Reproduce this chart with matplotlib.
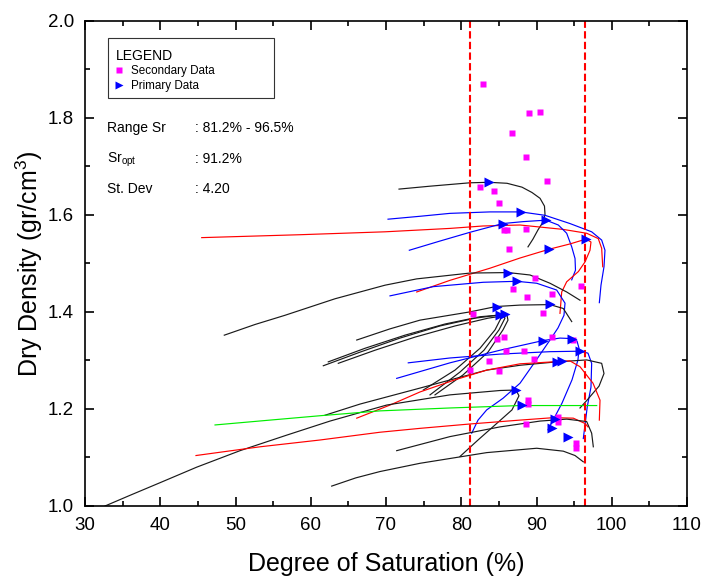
import matplotlib
matplotlib.use("Agg")
import matplotlib.pyplot as plt
from matplotlib.patches import Rectangle
from matplotlib.ticker import MultipleLocator

plt.rcParams['font.family'] = ['Liberation Sans', 'DejaVu Sans']
plt.rcParams['mathtext.fontset'] = 'custom'
plt.rcParams['mathtext.rm'] = 'Liberation Sans'
plt.rcParams['mathtext.it'] = 'Liberation Sans:italic'

# summary values
range_sr = [81.2, 96.5]
sr_opt = 91.2
st_dev = 4.20

# secondary data (magenta squares)
sec_sr = [82.85, 89.04, 90.50, 86.70, 88.60, 91.40, 82.45, 84.40, 85.00, 85.70,
          86.10, 88.60, 86.30, 89.80, 86.90, 95.90, 92.06, 88.80, 90.80, 81.50,
          84.80, 85.70, 86.00, 88.30, 92.10, 94.90, 83.70, 89.70, 81.20, 85.00,
          88.90, 88.90, 92.80, 92.80, 88.60, 95.20, 95.20]
sec_dd = [1.869, 1.809, 1.812, 1.768, 1.719, 1.669, 1.658, 1.649, 1.625, 1.568,
          1.568, 1.570, 1.529, 1.469, 1.448, 1.453, 1.437, 1.430, 1.398, 1.395,
          1.345, 1.349, 1.320, 1.319, 1.349, 1.343, 1.299, 1.303, 1.280, 1.279,
          1.218, 1.210, 1.184, 1.174, 1.168, 1.129, 1.119]

# primary data (blue triangles)
pri_sr = [83.69, 87.94, 85.51, 91.26, 96.60, 91.66, 86.25, 87.37, 84.71, 91.79,
          85.15, 85.81, 90.90, 94.68, 95.78, 92.68, 93.35, 87.28, 88.04, 92.46,
          92.10, 94.23]
pri_dd = [1.667, 1.606, 1.582, 1.589, 1.550, 1.529, 1.481, 1.463, 1.410, 1.416,
          1.393, 1.395, 1.341, 1.345, 1.319, 1.297, 1.299, 1.239, 1.208, 1.179,
          1.161, 1.143]

# compaction curves (degree of saturation, dry density)
a_sr = [71.73, 75.85, 81.16, 83.69, 86.08, 88.07, 89.40, 90.47, 91.06, 91.13, 90.86, 90.20, 89.53, 88.87]
a_dd = [1.653, 1.659, 1.666, 1.667, 1.665, 1.657, 1.646, 1.634, 1.618, 1.601, 1.585, 1.569, 1.550, 1.534]

b_sr = [70.27, 74.52, 78.50, 83.82, 87.94, 91.13, 94.45, 97.33, 98.66, 99.10, 98.97, 98.57, 98.35]
b_dd = [1.591, 1.597, 1.603, 1.606, 1.606, 1.599, 1.582, 1.565, 1.548, 1.527, 1.493, 1.455, 1.419]

c_sr = [45.51, 58.57, 69.87, 78.50, 82.89, 87.81, 93.52, 96.67, 98.21, 98.66, 98.80]
c_dd = [1.553, 1.559, 1.565, 1.572, 1.577, 1.579, 1.570, 1.562, 1.551, 1.531, 1.493]

d_sr = [73.10, 77.18, 81.16, 85.51, 88.25, 91.26, 92.90, 94.01, 94.68, 95.12, 95.18, 94.68]
d_dd = [1.527, 1.546, 1.564, 1.582, 1.586, 1.589, 1.579, 1.562, 1.534, 1.510, 1.486, 1.466]

e_sr = [74.08, 78.50, 83.82, 87.81, 91.66, 94.45, 96.58, 97.24, 97.11, 96.45, 95.56, 94.01, 93.35, 93.12]
e_dd = [1.441, 1.465, 1.490, 1.511, 1.529, 1.540, 1.550, 1.544, 1.527, 1.503, 1.483, 1.462, 1.441, 1.397]

f_sr = [48.51, 52.59, 56.58, 63.22, 69.87, 74.08, 81.16, 86.25, 89.14, 91.79, 94.01, 95.78]
f_dd = [1.352, 1.374, 1.393, 1.427, 1.455, 1.468, 1.480, 1.481, 1.476, 1.459, 1.441, 1.424]

g_sr = [70.53, 76.29, 82.93, 87.37, 90.03, 92.68, 93.79, 93.65, 92.86, 91.79, 89.80, 87.81, 85.55, 83.38, 82.23, 81.39]
g_dd = [1.433, 1.452, 1.461, 1.463, 1.459, 1.445, 1.418, 1.393, 1.367, 1.342, 1.297, 1.253, 1.222, 1.198, 1.177, 1.150]

i1_sr = [66.11, 70.53, 74.52, 81.16, 84.62, 87.81, 91.79, 93.56, 94.68]
i1_dd = [1.342, 1.365, 1.383, 1.400, 1.411, 1.414, 1.415, 1.407, 1.380]

i2_sr = [61.67, 66.54, 71.86, 77.18, 81.83, 84.75, 85.28, 84.49, 82.49, 79.17, 74.96]
i2_dd = [1.289, 1.317, 1.346, 1.371, 1.387, 1.393, 1.387, 1.363, 1.325, 1.280, 1.239]

i3_sr = [62.33, 67.21, 72.52, 77.84, 82.49, 85.55, 85.81, 85.02, 83.02, 79.83, 75.85]
i3_dd = [1.297, 1.325, 1.352, 1.375, 1.390, 1.394, 1.387, 1.363, 1.321, 1.276, 1.229]

i4_sr = [63.66, 68.54, 73.85, 79.17, 83.55, 86.08, 86.21, 85.55, 83.55, 80.23, 76.51]
i4_dd = [1.294, 1.321, 1.348, 1.371, 1.387, 1.393, 1.383, 1.363, 1.317, 1.270, 1.229]

j_sr = [71.42, 78.50, 85.15, 90.90, 93.12, 94.68, 95.38, 95.65, 95.51, 94.72, 93.39, 91.53]
j_dd = [1.263, 1.295, 1.321, 1.341, 1.346, 1.345, 1.340, 1.325, 1.301, 1.260, 1.212, 1.157]

k_sr = [72.96, 78.50, 85.15, 91.79, 95.78, 96.84, 97.33, 97.24, 96.75, 96.22]
k_dd = [1.295, 1.305, 1.313, 1.318, 1.319, 1.315, 1.294, 1.245, 1.205, 1.139]

l_sr = [61.89, 66.54, 74.52, 83.38, 87.81, 92.68, 96.67, 98.66, 98.97, 98.31, 96.71, 95.78]
l_dd = [1.187, 1.210, 1.243, 1.280, 1.290, 1.297, 1.301, 1.294, 1.273, 1.247, 1.218, 1.202]

n_sr = [66.11, 70.53, 74.52, 79.17, 83.38, 87.81, 92.19, 94.45, 95.78, 97.51, 98.44, 98.35]
n_dd = [1.181, 1.208, 1.235, 1.260, 1.280, 1.293, 1.297, 1.299, 1.287, 1.253, 1.218, 1.177]

m_sr = [32.66, 35.98, 39.97, 44.84, 50.60, 56.80, 62.56, 70.09, 78.50, 85.15, 87.28, 87.67, 86.74, 84.49, 82.23, 79.83]
m_dd = [1.000, 1.022, 1.048, 1.080, 1.114, 1.146, 1.175, 1.208, 1.229, 1.238, 1.239, 1.227, 1.198, 1.167, 1.136, 1.102]

gr_sr = [47.28, 54.58, 61.23, 69.20, 78.50, 87.81, 98.00]
gr_dd = [1.167, 1.177, 1.186, 1.196, 1.202, 1.207, 1.207]

o_sr = [44.75, 53.26, 61.23, 69.20, 74.52, 81.16, 87.81, 92.23, 94.89, 96.45, 96.84]
o_dd = [1.104, 1.122, 1.136, 1.152, 1.160, 1.169, 1.177, 1.182, 1.181, 1.170, 1.163]

p_sr = [62.78, 66.00, 69.20, 74.52, 83.38, 90.03, 93.56, 95.12, 96.22]
p_dd = [1.041, 1.058, 1.071, 1.088, 1.110, 1.119, 1.113, 1.104, 1.091]

q_sr = [71.42, 78.50, 85.15, 90.47, 94.01, 96.67, 97.33, 97.55]
q_dd = [1.114, 1.143, 1.163, 1.175, 1.179, 1.174, 1.150, 1.122]

black = '#1a1a1a'
blue = '#0000ff'
red = '#ff0000'
green = '#00ee00'
curves = [
    (a_sr, a_dd, black), (b_sr, b_dd, blue), (c_sr, c_dd, red),
    (d_sr, d_dd, blue), (e_sr, e_dd, red), (f_sr, f_dd, black),
    (g_sr, g_dd, blue), (i1_sr, i1_dd, black), (i2_sr, i2_dd, black),
    (i3_sr, i3_dd, black), (i4_sr, i4_dd, black), (j_sr, j_dd, blue),
    (k_sr, k_dd, blue), (l_sr, l_dd, black), (n_sr, n_dd, red),
    (m_sr, m_dd, black), (gr_sr, gr_dd, green), (o_sr, o_dd, red),
    (p_sr, p_dd, black), (q_sr, q_dd, black),
]

fig = plt.figure(figsize=(7.05, 5.81), dpi=100)
ax = fig.add_axes([85 / 705, 75 / 581, 602 / 705, 485.3 / 581])

for xs, ys, col in curves:
    ax.plot(xs, ys, color=col, lw=0.85, zorder=2)

for v in range_sr:
    ax.axvline(v, color=red, lw=1.5, ls=(0, (3.5, 1.6)), zorder=2.5)

sq, = ax.plot(sec_sr, sec_dd, ls='none', marker='s', ms=4.8, color='#ff00ff',
              mec='none', zorder=3, label='Secondary Data')
tri, = ax.plot(pri_sr, pri_dd, ls='none', marker='>', ms=6.5, color=blue,
               mec='none', zorder=4, label='Primary Data')

ax.set_xlim(30, 110)
ax.set_ylim(1.0, 2.0)
ax.xaxis.set_major_locator(MultipleLocator(10))
ax.xaxis.set_minor_locator(MultipleLocator(5))
ax.yaxis.set_major_locator(MultipleLocator(0.2))
ax.yaxis.set_minor_locator(MultipleLocator(0.1))
ax.yaxis.set_major_formatter('{x:.1f}')
ax.tick_params(which='both', direction='in', top=True, right=True, width=1.2,
               labelsize=13.5, pad=8)
ax.tick_params(which='major', length=6.5)
ax.tick_params(which='minor', length=3.8)
for s in ax.spines.values():
    s.set_linewidth(1.2)

ax.set_xlabel('Degree of Saturation (%)', fontsize=18, labelpad=13)
ax.set_ylabel('Dry Density (gr/cm$^3$)', fontsize=18, labelpad=2)

# legend box
ax.add_patch(Rectangle((0.0387, 0.8401), 0.2758, 0.1236, transform=ax.transAxes,
                       fill=False, ec='#333333', lw=0.8, zorder=5))
ax.text(0.052, 0.9187, 'LEGEND', transform=ax.transAxes, fontsize=10,
        va='baseline', zorder=6)
ax.legend(handles=[sq, tri], loc='upper left', bbox_to_anchor=(0.035, 0.925),
          frameon=False, fontsize=8.4, handlelength=0.8, handletextpad=0.6,
          labelspacing=0.25, borderpad=0.2, markerscale=0.9)

tx = 0.036
vx = 0.1827
ax.text(tx, 0.7704, 'Range Sr', transform=ax.transAxes, fontsize=10, va='baseline')
ax.text(vx, 0.7704, f': {range_sr[0]}% - {range_sr[1]}%', transform=ax.transAxes,
        fontsize=10, va='baseline')
ax.text(tx, 0.7069, 'Sr$_{\\mathrm{opt}}$', transform=ax.transAxes, fontsize=10, va='baseline')
ax.text(vx, 0.7069, f': {sr_opt}%', transform=ax.transAxes, fontsize=10, va='baseline')
ax.text(tx, 0.6444, 'St. Dev', transform=ax.transAxes, fontsize=10, va='baseline')
ax.text(vx, 0.6444, f': {st_dev:.2f}', transform=ax.transAxes, fontsize=10, va='baseline')

fig.savefig('out.png', dpi=100)
